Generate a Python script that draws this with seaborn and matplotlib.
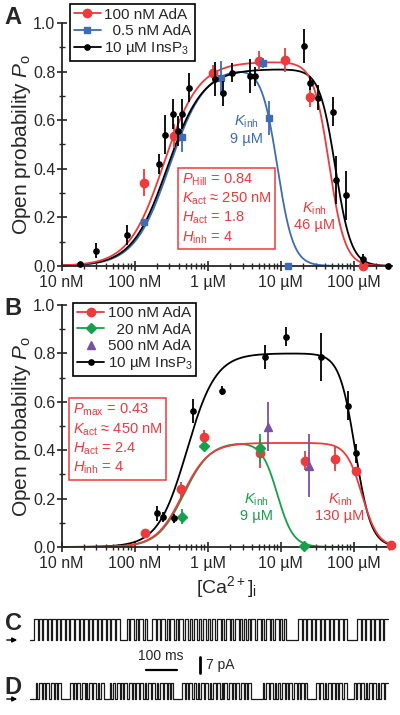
import numpy as np
import pandas as pd
import matplotlib
matplotlib.use('Agg')
import matplotlib.pyplot as plt
from matplotlib.lines import Line2D
from matplotlib.ticker import LogLocator, NullFormatter, MultipleLocator
import seaborn as sns

sns.set_style('ticks')
plt.rcParams['font.family'] = ['Liberation Sans', 'DejaVu Sans']
plt.rcParams['mathtext.fontset'] = 'custom'
plt.rcParams['mathtext.rm'] = 'Liberation Sans'
plt.rcParams['mathtext.it'] = 'Liberation Sans:italic'
plt.rcParams['mathtext.bf'] = 'Liberation Sans:bold'

RED = '#ec3a3d'
BLUE = '#3d6cb5'
GREEN = '#17a04b'
PURPLE = '#7b52a3'
BLACK = '#000000'

# ---- panel A data, [Ca2+] in uM ----
a_red_ca = [0.134, 0.349, 1.17, 5.0, 11.6, 25.2, 133]
a_red_po = [0.343, 0.535, 0.795, 0.845, 0.848, 0.694, 0.0]
a_red_err = [0.055, 0.05, 0.03, 0.04, 0.05, 0.04, 0.0]

a_blue_ca = [0.133, 0.449, 1.5, 5.67, 6.96, 12.7]
a_blue_po = [0.18, 0.53, 0.772, 0.834, 0.61, 0.0]
a_blue_err = [0.0, 0.06, 0.07, 0.02, 0.07, 0.0]

a_blk_ca = [0.018, 0.030, 0.078, 0.217, 0.263, 0.33, 0.395, 0.449, 0.555, 1.26, 1.6, 2.13,
            3.8, 4.4, 20.9, 25.2, 32.7, 51.5, 57, 77.8, 133, 296]
a_blk_po = [0.008, 0.063, 0.128, 0.42, 0.54, 0.625, 0.555, 0.625, 0.734, 0.77, 0.71, 0.795,
            0.78, 0.78, 0.905, 0.752, 0.693, 0.635, 0.354, 0.29, 0.03, 0.0]
a_blk_err = [0.0, 0.03, 0.04, 0.04, 0.08, 0.06, 0.06, 0.06, 0.06, 0.07, 0.05, 0.04,
             0.07, 0.04, 0.07, 0.03, 0.05, 0.06, 0.1, 0.1, 0.02, 0.0]

# fit parameters (Pmax, Kact uM, Hact, Kinh uM, Hinh)
a_fit_red = (0.84, 0.25, 1.8, 46, 4)
a_fit_blue = (0.82, 0.30, 1.8, 9, 4)
a_fit_blk = (0.81, 0.28, 1.8, 56, 4)

# ---- panel B data ----
b_red_ca = [0.14, 0.43, 0.89, 5.2, 21.5, 56, 107, 321]
b_red_po = [0.059, 0.238, 0.453, 0.387, 0.357, 0.362, 0.314, 0.01]
b_red_err = [0.0, 0.03, 0.03, 0.06, 0.04, 0.05, 0.0, 0.0]

b_grn_ca = [0.44, 0.89, 5.2, 21]
b_grn_po = [0.125, 0.417, 0.408, 0.005]
b_grn_err = [0.03, 0.02, 0.06, 0.0]

b_pur_ca = [6.76, 24.7]
b_pur_po = [0.497, 0.335]
b_pur_err = [0.1, 0.13]

b_blk_ca = [0.204, 0.247, 0.346, 0.62, 1.55, 6.1, 11.8, 35.7, 82.8, 107]
b_blk_po = [0.139, 0.125, 0.118, 0.562, 0.646, 0.786, 0.869, 0.786, 0.583, 0.387]
b_blk_err = [0.03, 0.02, 0.02, 0.05, 0.02, 0.05, 0.04, 0.1, 0.06, 0.04]

b_fit_red = (0.43, 0.45, 2.4, 130, 4)
b_fit_grn = (0.435, 0.47, 2.4, 9, 4)
b_fit_blk = (0.80, 0.52, 2.2, 105, 4)

xticks = [0.01, 0.1, 1, 10, 100]
xticklabels = ['10 nM', '100 nM', '1 µM', '10 µM', '100 µM']
yticks = [0.0, 0.2, 0.4, 0.6, 0.8, 1.0]
yticklabels = ['0.0', '0.2', '0.4', '0.6', '0.8', '1.0']

# ---- single channel records (1 = open, 0 = closed), read by eye ----
trace_c = ("000" + "1110110111011011101101110110111011101101110110111011011101101110111"
           + "00000" + "1101110110111011" + "0000"
           + "1110110111011011101101110111011011101101110110111011101101110110111011"
           + "0110110111011101101110110111011011"
           + "000000000" + "11101101110110111011011101101110111011" + "00000000"
           + "111011011101101110110111")
trace_d = ("0000" + "101101011011010110" + "00000" + "11010110110101101101011" + "0000"
           + "1011011010110110101101101011011010110110101" + "000000"
           + "110101101101011011010110110101101101011011010110" + "0000000"
           + "1011011010110110101101101011010" + "00000" + "110110101101101011011"
           + "00000" + "10110110101101101011011")


def hill(c, pmax, kact, hact, kinh, hinh):
    act = c ** hact / (c ** hact + kact ** hact)
    inh = kinh ** hinh / (c ** hinh + kinh ** hinh)
    return pmax * act * inh


fig = plt.figure(figsize=(4, 7.15), dpi=100)
axA = fig.add_axes([0.154, 0.628, 0.825, 0.340])
axB = fig.add_axes([0.154, 0.235, 0.825, 0.3385])
cgrid = np.logspace(-2, np.log10(330), 400)


def style(ax):
    ax.set_xscale('log')
    ax.set_xlim(0.01, 330)
    ax.set_ylim(0, 1.0)
    sns.despine(ax=ax)
    for s in ['left', 'bottom']:
        ax.spines[s].set_linewidth(1.3)
    ax.set_xticks(xticks)
    ax.set_xticklabels(xticklabels)
    ax.xaxis.set_minor_locator(LogLocator(base=10, subs=np.arange(2, 10)))
    ax.xaxis.set_minor_formatter(NullFormatter())
    ax.set_yticks(yticks)
    ax.set_yticklabels(yticklabels)
    ax.yaxis.set_minor_locator(MultipleLocator(0.1))
    ax.tick_params(which='major', direction='inout', length=7, width=1.2, labelsize=11.5, pad=1)
    ax.tick_params(axis='x', which='major', pad=3)
    ax.tick_params(which='minor', direction='inout', length=4, width=1.0)
    ax.set_ylabel('Open probability $\\it{P}_\\mathrm{o}$', fontsize=15, labelpad=0)


def points(ax, ca, po, err, color, marker, ms, z):
    ax.errorbar(ca, po, yerr=err, fmt=marker, color=color, ms=ms, elinewidth=1.3,
                capsize=0, clip_on=False, zorder=z)


def curve(ax, pars, color):
    df = pd.DataFrame({'ca': cgrid, 'po': hill(cgrid, *pars)})
    sns.lineplot(data=df, x='ca', y='po', ax=ax, color=color, lw=1.3)


# panel A
axA.set_xscale('log')
curve(axA, a_fit_blue, BLUE)
curve(axA, a_fit_blk, BLACK)
curve(axA, a_fit_red, RED)
points(axA, a_blue_ca, a_blue_po, a_blue_err, BLUE, 's', 5, 4)
points(axA, a_blk_ca, a_blk_po, a_blk_err, BLACK, 'o', 3.8, 5)
points(axA, a_red_ca, a_red_po, a_red_err, RED, 'o', 6, 3)
style(axA)
axA.set_xlabel('')

handlesA = [Line2D([], [], color=RED, marker='o', ms=6, lw=1.3),
            Line2D([], [], color=BLUE, marker='s', ms=5, lw=1.3),
            Line2D([], [], color=BLACK, marker='o', ms=3.8, lw=1.3)]
legA = axA.legend(handlesA, ['100 nM AdA', '  0.5 nM AdA', '10 µM InsP$_3$'],
                  loc='upper left', bbox_to_anchor=(0.025, 1.078), fontsize=11,
                  frameon=True, fancybox=False, framealpha=1, edgecolor='black',
                  handlelength=1.8, handletextpad=0.2, borderpad=0.25, labelspacing=0.15,
                  borderaxespad=0)
legA.get_frame().set_linewidth(1.2)

axA.text(0.365, 0.39,
         '$\\it{P}_\\mathrm{Hill}$ = 0.84\n$\\it{K}_\\mathrm{act}$ ≈ 250 nM\n'
         '$\\it{H}_\\mathrm{act}$ = 1.8\n$\\it{H}_\\mathrm{inh}$ = 4',
         transform=axA.transAxes, ha='left', va='top', fontsize=10.5, color=RED,
         linespacing=1.25,
         bbox=dict(boxstyle='square,pad=0.25', fc='white', ec=RED, lw=1.1))
axA.text(3.4, 0.56, '$\\it{K}_\\mathrm{inh}$\n9 µM', ha='center', va='center',
         fontsize=10.5, color=BLUE, linespacing=1.1)
axA.text(29, 0.205, '$\\it{K}_\\mathrm{inh}$\n46 µM', ha='center', va='center',
         fontsize=10.5, color=RED, linespacing=1.1)

# panel B
curve(axB, b_fit_blk, BLACK)
curve(axB, b_fit_grn, GREEN)
curve(axB, b_fit_red, RED)
points(axB, b_blk_ca, b_blk_po, b_blk_err, BLACK, 'o', 3.8, 5)
points(axB, b_red_ca, b_red_po, b_red_err, RED, 'o', 6, 3)
points(axB, b_grn_ca, b_grn_po, b_grn_err, GREEN, 'D', 5, 4)
points(axB, b_pur_ca, b_pur_po, b_pur_err, PURPLE, '^', 6, 4)
style(axB)
axB.set_xlabel('[Ca$^{2+}$]$_\\mathrm{i}$', fontsize=14, labelpad=2)

handlesB = [Line2D([], [], color=RED, marker='o', ms=6, lw=1.3),
            Line2D([], [], color=GREEN, marker='D', ms=5, lw=1.3),
            Line2D([], [], color=PURPLE, marker='^', ms=6, lw=0),
            Line2D([], [], color=BLACK, marker='o', ms=3.8, lw=1.3)]
legB = axB.legend(handlesB, ['100 nM AdA', '  20 nM AdA', '500 nM AdA', '10 µM InsP$_3$'],
                  loc='upper left', bbox_to_anchor=(0.035, 1.01), fontsize=11,
                  frameon=True, fancybox=False, framealpha=1, edgecolor='black',
                  handlelength=1.8, handletextpad=0.2, borderpad=0.25, labelspacing=0.15,
                  borderaxespad=0)
legB.get_frame().set_linewidth(1.2)

axB.text(0.034, 0.60,
         '$\\it{P}_\\mathrm{max}$ = 0.43\n$\\it{K}_\\mathrm{act}$ ≈ 450 nM\n'
         '$\\it{H}_\\mathrm{act}$ = 2.4\n$\\it{H}_\\mathrm{inh}$ = 4',
         transform=axB.transAxes, ha='left', va='top', fontsize=10.5, color=RED,
         linespacing=1.25,
         bbox=dict(boxstyle='square,pad=0.25', fc='white', ec=RED, lw=1.1))
axB.text(4.7, 0.163, '$\\it{K}_\\mathrm{inh}$\n9 µM', ha='center', va='center',
         fontsize=10.5, color=GREEN, linespacing=1.1)
axB.text(65, 0.163, '$\\it{K}_\\mathrm{inh}$\n130 µM', ha='center', va='center',
         fontsize=10.5, color=RED, linespacing=1.1)

# panel letters
fig.text(0.012, 0.975, 'A', fontsize=17, weight='bold', va='center')
fig.text(0.012, 0.569, 'B', fontsize=17, weight='bold', va='center')

# ---- traces C and D ----
ms_per_px = 100 / 31.0
pa_per_px = 7 / 16.7
axT = fig.add_axes([0, 0, 1, 125 / 715])
axT.set_xlim(0, 400 * ms_per_px)
axT.set_ylim(0, 125 * pa_per_px)
axT.axis('off')

dur = 358 * ms_per_px
t0 = 30 * ms_per_px
for trace, base, amp in [(trace_c, 75 * pa_per_px, 9.0), (trace_d, 16 * pa_per_px, 6.5)]:
    st = np.array([int(ch) for ch in trace] + [int(trace[-1])])
    t = t0 + np.linspace(0, dur, len(st))
    axT.step(t, base + amp * st, where='post', color='#1a1a1a', lw=0.9)
    axT.annotate('', xy=(20 * ms_per_px, base), xytext=(4 * ms_per_px, base),
                 arrowprops=dict(arrowstyle='-|>', color='black', lw=1.0,
                                 mutation_scale=7))

fig.text(0.012, 1 - 624 / 715, 'C', fontsize=17, weight='bold', va='center')
fig.text(0.012, 1 - 688 / 715, 'D', fontsize=17, weight='bold', va='center')

# scale bars
axT.plot([145.7 * ms_per_px, 176.7 * ms_per_px], [45 * pa_per_px] * 2, color='black', lw=1.6)
axT.plot([200 * ms_per_px] * 2, [41.7 * pa_per_px, 41.7 * pa_per_px + 7], color='black', lw=2)
axT.text(161 * ms_per_px, 52 * pa_per_px, '100 ms', ha='center', va='bottom', fontsize=10)
axT.text(206 * ms_per_px, 50 * pa_per_px, '7 pA', ha='left', va='center', fontsize=10)

fig.savefig('out.png', dpi=100)
